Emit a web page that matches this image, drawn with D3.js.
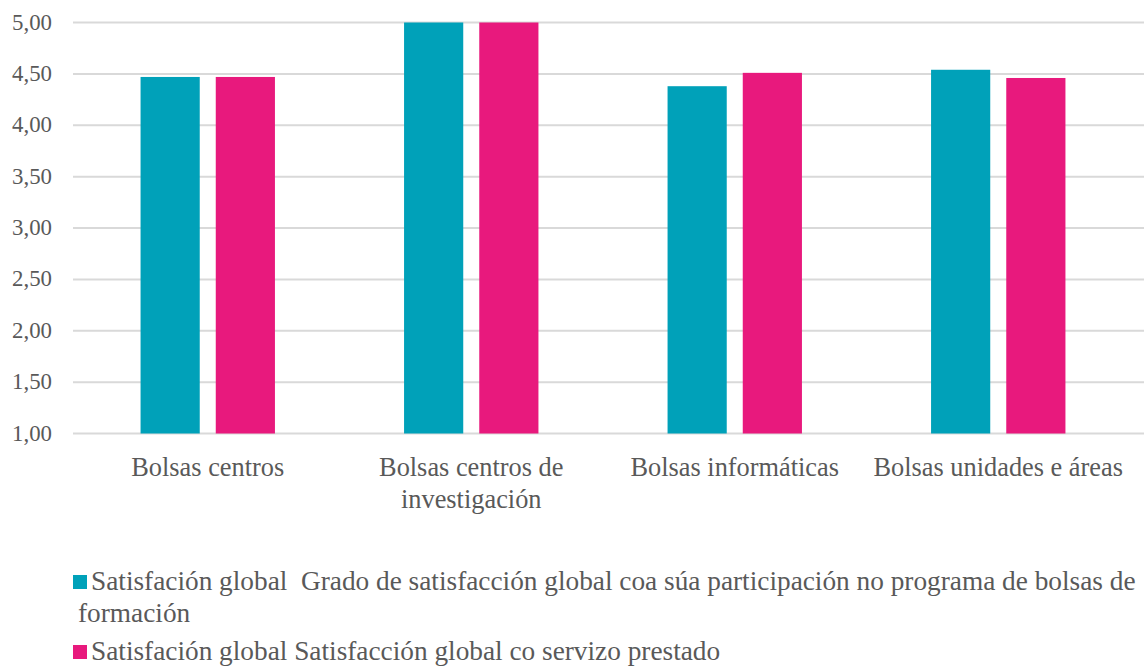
<!DOCTYPE html>
<html><head><meta charset="utf-8">
<script src="https://cdn.jsdelivr.net/npm/d3@7"></script>
</head>
<body style="margin:0">
<svg id="c" width="1144" height="670" font-family="'Times New Roman', 'Liberation Serif', serif"></svg>
<script>
const categories = [["Bolsas centros"], ["Bolsas centros de","investigación"], ["Bolsas informáticas"], ["Bolsas unidades e áreas"]];
const seriesNames = [
  ["Satisfación global  Grado de satisfacción global coa súa participación no programa de bolsas de","formación"],
  ["Satisfación global Satisfacción global co servizo prestado"]
];
const seriesA = [4.47, 5.00, 4.38, 4.54];
const seriesB = [4.47, 5.00, 4.51, 4.46];
const yTicks = [1.0, 1.5, 2.0, 2.5, 3.0, 3.5, 4.0, 4.5, 5.0];
const colors = ["#00a1b9", "#e8197d"];
const FONT = "'Times New Roman', 'Liberation Serif', serif";
const TXT = "#595959";

const svg = d3.select("#c");
const y = d3.scaleLinear().domain([1, 5]).range([433.5, 22.5]);
const x0 = d3.scaleBand().domain(d3.range(categories.length)).range([76, 1130]).paddingInner(0.49).paddingOuter(0.245);
const x1 = d3.scaleBand().domain([0, 1]).range([0, x0.bandwidth()]).paddingInner(0.213);

// size a font so that a sample string reaches a target width (adapts to whatever font is used)
function fitSize(sample, target, base) {
  const t = svg.append("text").attr("font-size", base).style("font-family", FONT).style("white-space", "pre").text(sample);
  const w = t.node().getComputedTextLength();
  t.remove();
  return w > 0 ? base * target / w : base;
}
const labelSize = Math.min(27, fitSize("Bolsas centros", 153, 26));
const legendSize = Math.min(29, fitSize(seriesNames[0][0], 1045, 26));
const tickSize = Math.min(23, fitSize("5,00", 40, 21));

svg.append("g").selectAll("line").data(yTicks).join("line")
  .attr("x1", 73).attr("x2", 1144)
  .attr("y1", d => y(d)).attr("y2", d => y(d))
  .attr("stroke", "#d9d9d9").attr("stroke-width", 2);

const fmt = d => d3.format(".2f")(d).replace(".", ",");
yTicks.forEach(d => {
  svg.append("text").attr("x", 52).attr("y", y(d) + 7)
    .attr("text-anchor", "end").attr("font-size", tickSize)
    .style("font-family", FONT).style("fill", TXT).text(fmt(d));
});

const series = [seriesA, seriesB];
series.forEach((vals, si) => {
  svg.append("g").selectAll("rect").data(vals).join("rect")
    .attr("x", (d, i) => x0(i) + x1(si))
    .attr("width", x1.bandwidth())
    .attr("y", d => y(d))
    .attr("height", d => y(1) - y(d))
    .attr("fill", colors[si]);
});

categories.forEach((lines, i) => {
  lines.forEach((line, li) => {
    svg.append("text").attr("x", x0(i) + x0.bandwidth() / 2).attr("y", 476 + li * 32)
      .attr("text-anchor", "middle").attr("font-size", labelSize)
      .style("font-family", FONT).style("fill", TXT).text(line);
  });
});

const legY = [590, 660];
seriesNames.forEach((lines, si) => {
  svg.append("rect").attr("x", 73).attr("y", legY[si] - 15).attr("width", 14).attr("height", 14).attr("fill", colors[si]);
  lines.forEach((line, li) => {
    svg.append("text").attr("x", li === 0 ? 91 : 78).attr("y", legY[si] + li * 32)
      .attr("font-size", legendSize).style("font-family", FONT).style("fill", TXT)
      .style("white-space", "pre").text(line);
  });
});
</script></body></html>
